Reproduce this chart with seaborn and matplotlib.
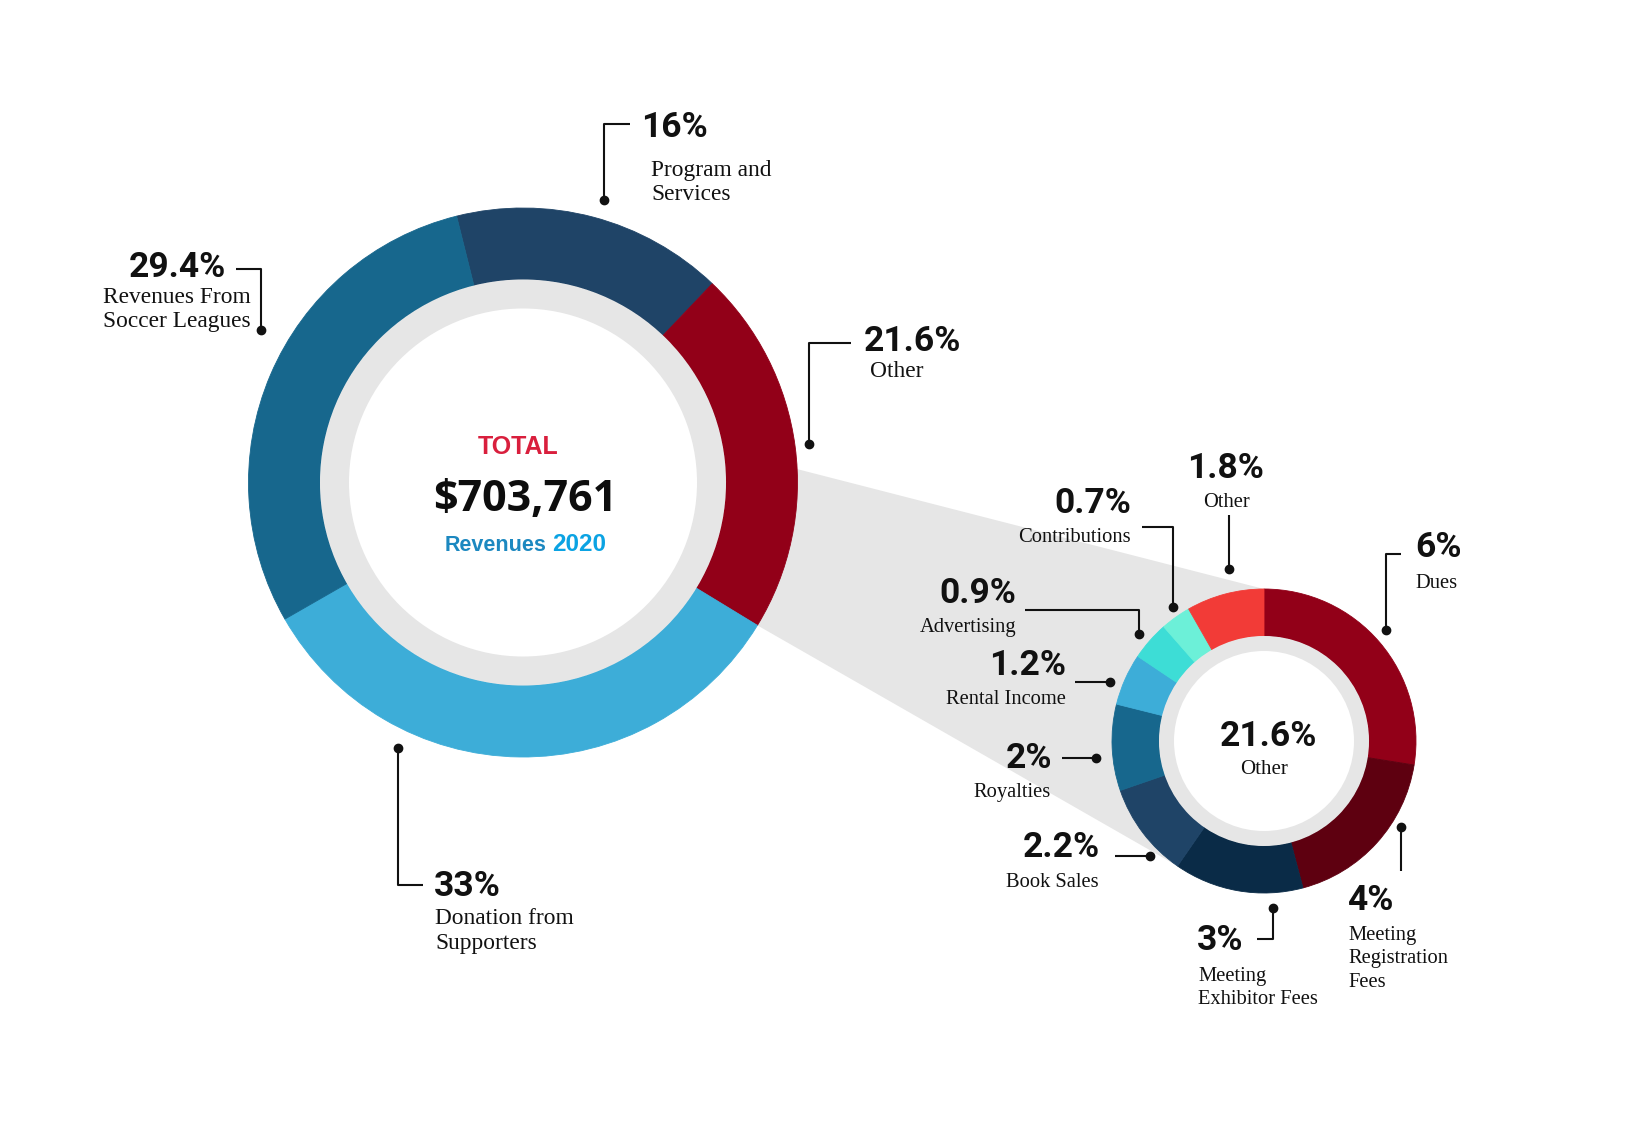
import numpy as np
import matplotlib.pyplot as plt
import seaborn as sns
from matplotlib.patches import Circle, Polygon

sns.set_theme(style="white")
plt.rcParams['font.family'] = ['DejaVu Sans']

# revenue split, percent of total
main_names = ["Program and\nServices", "Other", "Donation from\nSupporters", "Revenues From\nSoccer Leagues"]
main_values = [16, 21.6, 33, 29.4]
main_colors = ["#1F4467", "#920018", "#3DADD8", "#17678D"]

# breakdown of the "Other" slice
other_names = ["Dues", "Meeting\nRegistration\nFees", "Meeting\nExhibitor Fees", "Book Sales",
               "Royalties", "Rental Income", "Advertising", "Contributions", "Other"]
other_values = [6, 4, 3, 2.2, 2, 1.2, 0.9, 0.7, 1.8]
other_colors = ["#920018", "#5E0010", "#0A2B47", "#1F4467", "#17678D",
                "#3DADD8", "#3DDDD6", "#6CF0D8", "#F23B37"]

total_text = "$703,761"
year_text = "2020"

W, H = 1645, 1147
def Y(y):
    return H - y

GREY = "#E6E6E6"
PCT_FONT = dict(family="Roboto", fontweight="bold", fontsize=25.5, color="#111111")
SERIF = "Liberation Serif"

fig = plt.figure(figsize=(W / 100, H / 100), dpi=100)
ax = fig.add_axes([0, 0, 1, 1])

# geometry (pixels, y measured from the top)
big_c, big_r, big_w, big_hole = (523, 482.5), 274.5, 71.5, 174
sm_c, sm_r, sm_w, sm_hole = (1264, 741), 152, 47, 90
big_start, sm_start = 104, 90

# grey "zoom" band joining the Other slice to the breakdown donut
ang_b = np.radians(big_start - sum(main_values[:2]) / sum(main_values) * 360)
ang_a = np.radians(2.8)
ang_d = np.radians(sm_start - sum(other_values[:3]) / sum(other_values) * 360)
ang_c = np.radians(sm_start)
pts = [
    (big_c[0] + big_r * np.cos(ang_a), Y(big_c[1]) + big_r * np.sin(ang_a)),
    (sm_c[0] + sm_r * np.cos(ang_c), Y(sm_c[1]) + sm_r * np.sin(ang_c)),
    (sm_c[0] + sm_r * np.cos(ang_d), Y(sm_c[1]) + sm_r * np.sin(ang_d)),
    (big_c[0] + big_r * np.cos(ang_b), Y(big_c[1]) + big_r * np.sin(ang_b)),
]
ax.add_patch(Polygon(pts, closed=True, facecolor=GREY, edgecolor="none", zorder=0))

def donut(values, colors, c, r, w, hole, start):
    ax.pie(values, colors=colors, startangle=start, counterclock=False, radius=r,
           center=(c[0], Y(c[1])), wedgeprops=dict(width=w, linewidth=0.6, edgecolor=None),
           frame=True)
    for wd in ax.patches[-len(values):]:
        wd.set_edgecolor(wd.get_facecolor())
    ax.add_patch(Circle((c[0], Y(c[1])), r - w, facecolor=GREY, edgecolor="none", zorder=2))
    ax.add_patch(Circle((c[0], Y(c[1])), hole, facecolor="white", edgecolor="none", zorder=3))

donut(main_values, main_colors, big_c, big_r, big_w, big_hole, big_start)
donut(other_values, other_colors, sm_c, sm_r, sm_w, sm_hole, sm_start)

def pct(v):
    return f"{v:g}%"

def leader(path):
    xs = [p[0] for p in path]
    ys = [Y(p[1]) for p in path]
    ax.plot(xs, ys, color="#111111", lw=1.5, solid_capstyle="butt", zorder=5)
    ax.plot(xs[-1], ys[-1], "o", color="#111111", ms=6, zorder=5)

def label(value, name, px, py, nx, ny, ha, size, lsp, path):
    ax.text(px, Y(py), pct(value), ha=ha, va="baseline", zorder=6, **PCT_FONT)
    for i, line in enumerate(name.split("\n")):
        ax.text(nx, Y(ny + i * lsp), line, ha=ha, va="baseline", family=SERIF,
                fontsize=size, color="#111111", zorder=6)
    leader(path)

# main donut labels: pct x, pct baseline, name x, name baseline, align, leader path (ends at dot)
main_layout = [
    (641, 137, 651, 176, "left", [(630, 124), (604, 124), (604, 200)]),
    (864, 351, 870, 377, "left", [(851, 343), (809, 343), (809, 444)]),
    (434, 896, 435, 924, "left", [(423, 885), (398, 885), (398, 748)]),
    (129, 277, 103, 303, "left", [(236, 269), (261, 269), (261, 330)]),
]
for v, n, (px, py, nx, ny, ha, path) in zip(main_values, main_names, main_layout):
    label(v, n, px, py, nx, ny, ha, 16.8, 24.5, path)

other_layout = [
    (1415, 557, 1415, 588, "left", [(1401, 554), (1386, 554), (1386, 630)]),
    (1347, 910, 1348, 940, "left", [(1400.5, 871), (1400.5, 827)]),
    (1197, 950, 1198, 981, "left", [(1257, 939), (1273, 939), (1273, 908)]),
    (1100, 857, 1099, 887, "right", [(1115, 856), (1150, 856)]),
    (1052, 768, 1051, 797, "right", [(1062, 758), (1096, 758)]),
    (1066, 675, 1066, 704, "right", [(1075, 682), (1110, 682)]),
    (1016, 603, 1016, 632, "right", [(1025, 610), (1139, 610), (1139, 634)]),
    (1131, 513, 1131, 542, "right", [(1142, 527), (1173, 527), (1173, 607)]),
    (1226, 478, 1226, 507, "center", [(1229, 515), (1229, 569)]),
]
for v, n, (px, py, nx, ny, ha, path) in zip(other_values, other_names, other_layout):
    label(v, n, px, py, nx, ny, ha, 14.8, 23.5, path)

# centre of the big donut
ax.text(518, Y(454), "TOTAL", ha="center", va="baseline", family="Liberation Sans",
        fontweight="bold", fontsize=18, color="#D91F3D", zorder=6)
ax.text(525, Y(511), total_text, ha="center", va="baseline", family="Open Sans",
        fontweight="bold", fontsize=31, color="#0D0D0D", zorder=6)
ax.text(546, Y(551), "Revenues", ha="right", va="baseline", family="Liberation Sans",
        fontweight="bold", fontsize=15.5, color="#1C88C0", zorder=6)
ax.text(552, Y(551), year_text, ha="left", va="baseline", family="Liberation Sans",
        fontweight="bold", fontsize=17.5, color="#0BA3E3", zorder=6)

# centre of the small donut
ax.text(1268, Y(746), pct(main_values[1]), ha="center", va="baseline", zorder=6, **PCT_FONT)
ax.text(1264, Y(774), main_names[1], ha="center", va="baseline", family=SERIF,
        fontsize=15, color="#111111", zorder=6)

ax.set_xlim(0, W)
ax.set_ylim(0, H)
ax.set_aspect("equal")
ax.axis("off")

fig.savefig("out.png", dpi=100, facecolor="white")
